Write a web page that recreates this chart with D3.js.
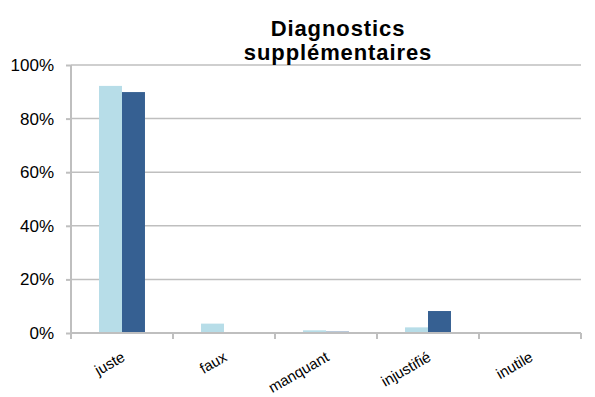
<!DOCTYPE html>
<html>
<head>
<meta charset="utf-8">
<script src="https://cdn.jsdelivr.net/npm/d3@7"></script>
<style>
  body { margin: 0; background: #fff; }
  svg { display: block; font-family: "Liberation Sans", Arial, sans-serif; }
</style>
</head>
<body>
<svg id="chart" width="595" height="397"></svg>
<script>
const categories = ["juste", "faux", "manquant", "injustifié", "inutile"];
const seriesNames = ["Série 1", "Série 2"];
const series1 = [0.922, 0.035, 0.01, 0.021, 0];
const series2 = [0.899, 0, 0.005, 0.082, 0];
const yTicks = [0, 0.2, 0.4, 0.6, 0.8, 1.0];
const titleLines = ["Diagnostics", "supplémentaires"];
const colors = ["#b7dde8", "#366092"];

const svg = d3.select("#chart");
const margin = { left: 71, right: 14, top: 65, bottom: 64 };
const W = 595, H = 397;

const x = d3.scaleBand().domain(categories).range([margin.left, W - margin.right]).paddingInner(0).paddingOuter(0);
const x1 = d3.scaleBand().domain(seriesNames).range([0, x.bandwidth()]).paddingInner(0).paddingOuter(1.22);
const y = d3.scaleLinear().domain([0, 1]).range([H - margin.bottom, margin.top]);

// gridlines
svg.append("g").selectAll("line").data(yTicks.filter(d => d > 0)).join("line")
  .attr("x1", margin.left).attr("x2", W - margin.right)
  .attr("y1", d => y(d)).attr("y2", d => y(d))
  .attr("stroke", "#bfbfbf").attr("stroke-width", 1.5);

// bars
const data = categories.map((c, i) => ({ c, vals: [series1[i], series2[i]] }));
const groups = svg.append("g").selectAll("g").data(data).join("g")
  .attr("transform", d => `translate(${x(d.c)},0)`);
groups.selectAll("rect").data(d => d.vals.map((v, k) => ({ v, k }))).join("rect")
  .attr("x", d => x1(seriesNames[d.k]))
  .attr("width", x1.bandwidth())
  .attr("y", d => y(d.v))
  .attr("height", d => y(0) - y(d.v))
  .attr("fill", d => colors[d.k]);

// y axis
const yAxis = d3.axisLeft(y).tickValues(yTicks).tickFormat(d3.format(".0%")).tickSize(5).tickPadding(12);
const gy = svg.append("g").attr("transform", `translate(${margin.left},0)`).call(yAxis);
gy.select(".domain").attr("stroke", "#bfbfbf").attr("stroke-width", 2).attr("d", `M0,${y(1)}V${y(0)}`);
gy.selectAll(".tick line").attr("stroke", "#bfbfbf").attr("stroke-width", 2);
gy.selectAll(".tick text").attr("font-size", 17).attr("fill", "#000")
  .attr("font-family", "Liberation Sans, Arial, sans-serif");

// x axis
const gx = svg.append("g").attr("transform", `translate(0,${y(0)})`);
gx.append("line").attr("x1", margin.left).attr("x2", W - margin.right)
  .attr("stroke", "#bfbfbf").attr("stroke-width", 2);
const xEdges = categories.map(c => x(c)).concat([x(categories[categories.length - 1]) + x.bandwidth()]);
gx.selectAll(".xt").data(xEdges).join("line").attr("class", "xt")
  .attr("x1", d => d).attr("x2", d => d).attr("y1", 0).attr("y2", 6)
  .attr("stroke", "#bfbfbf").attr("stroke-width", 2);
gx.selectAll("text").data(categories).join("text")
  .attr("transform", d => `translate(${x(d) + x.bandwidth() / 2 + 4},${27}) rotate(-30)`)
  .attr("text-anchor", "end")
  .attr("font-size", 15)
  .attr("fill", "#000")
  .text(d => d);

// title
svg.append("text").attr("x", 338).attr("y", 0).attr("text-anchor", "middle")
  .attr("font-size", 22).attr("font-weight", "bold").attr("letter-spacing", 0.9)
  .selectAll("tspan").data(titleLines).join("tspan")
  .attr("x", 338).attr("y", (d, i) => 36 + i * 24).text(d => d);
</script>
</body>
</html>
